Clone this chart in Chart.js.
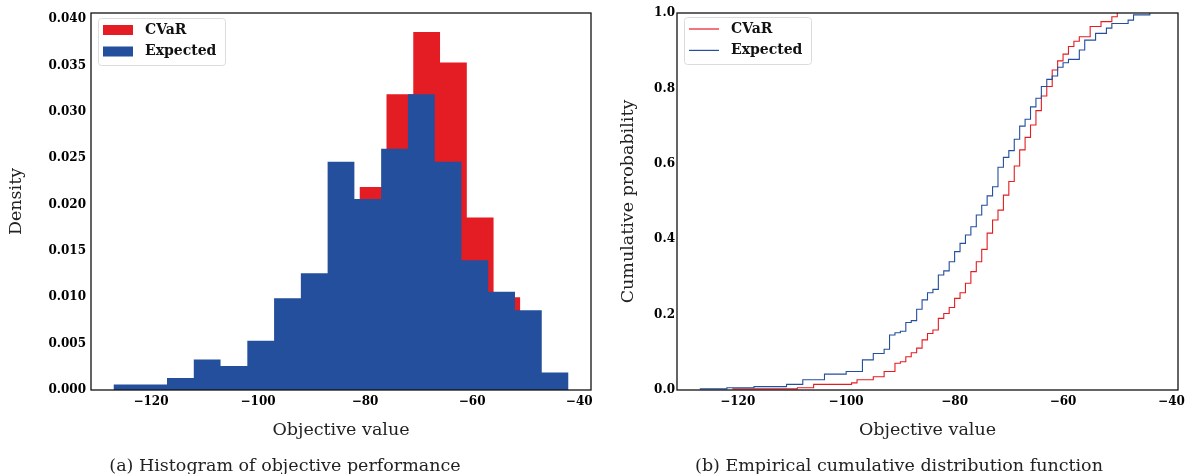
<!DOCTYPE html>
<html>
<head>
<meta charset="utf-8">
<script src="https://cdn.jsdelivr.net/npm/chart.js@4.4.1/dist/chart.umd.min.js"></script>
<style>
  html, body { margin: 0; padding: 0; background: #fff; }
  #page { position: relative; width: 1195px; height: 474px; overflow: hidden; }
  .panel { position: absolute; top: 0; height: 474px; }
  .caption { position: absolute; top: 455px; font: 17.5px 'DejaVu Serif', serif; color: #222;
             white-space: nowrap; transform: translateX(-50%); line-height: 20px; }
</style>
</head>
<body>
<div id="page">
  <div class="panel" style="left:0;width:600px"><canvas id="histCanvas"></canvas></div>
  <div class="panel" style="left:600px;width:595px"><canvas id="cdfCanvas"></canvas></div>
  <div class="caption" style="left:285px">(a) Histogram of objective performance</div>
  <div class="caption" style="left:899px">(b) Empirical cumulative distribution function</div>
</div>
<script>
// series
const seriesLabels = ['CVaR', 'Expected'];
const seriesColors = ['#E41C23', '#234F9C'];

// (a) histogram: bin edges and densities
const cvarEdges = [-121, -116, -111, -106, -101, -96, -91, -86, -81, -76, -71, -66, -61, -56, -51];
const cvarDensity = [0.0005, 0.0004, 0.0020, 0.0004, 0.0028, 0.0082, 0.0124, 0.0140,
                     0.0219, 0.0319, 0.0386, 0.0353, 0.0186, 0.0100];
const expectedEdges = [-127, -122, -117, -112, -107, -102, -97, -92, -87, -82, -77, -72, -67, -62, -57, -52, -47, -42];
const expectedDensity = [0.0006, 0.0006, 0.0013, 0.0033, 0.0026, 0.0053, 0.0099, 0.0126, 0.0246,
                         0.0206, 0.0260, 0.0319, 0.0246, 0.0140, 0.0106, 0.0086, 0.0019];

// (b) empirical CDF: step positions and cumulative probability after each step
const cvarCdfX = [-121, -109, -106, -99, -98, -95, -93, -91, -90, -89, -88, -87, -86, -85, -84, -83, -82, -81,
                  -80, -79, -78, -77, -76, -75, -74, -73, -72, -71, -70, -69, -68, -67, -66, -65, -64, -63,
                  -62, -61, -60, -59, -58, -57, -55, -53, -51, -50];
const cvarCdfY = [0.003, 0.006, 0.015, 0.019, 0.027, 0.035, 0.049, 0.071, 0.075, 0.088, 0.099, 0.111, 0.133,
                  0.150, 0.159, 0.190, 0.203, 0.219, 0.243, 0.258, 0.283, 0.314, 0.340, 0.373, 0.416, 0.451,
                  0.477, 0.517, 0.553, 0.594, 0.637, 0.670, 0.703, 0.741, 0.780, 0.805, 0.849, 0.873, 0.891,
                  0.911, 0.925, 0.937, 0.964, 0.977, 0.990, 1.0];
const expectedCdfX = [-127, -122, -117, -111, -108, -104, -100, -97, -95, -93, -92, -91, -90, -89, -88, -87, -86,
                      -85, -84, -83, -82, -81, -80, -79, -78, -77, -76, -75, -74, -73, -72, -71, -70, -69, -68,
                      -67, -66, -65, -64, -63, -62, -61, -60, -59, -57, -56, -54, -52, -51, -48, -47, -44];
const expectedCdfY = [0.003, 0.006, 0.009, 0.015, 0.027, 0.042, 0.049, 0.080, 0.097, 0.108, 0.146, 0.152, 0.156,
                      0.179, 0.184, 0.214, 0.239, 0.258, 0.267, 0.305, 0.316, 0.340, 0.367, 0.389, 0.411, 0.433,
                      0.464, 0.490, 0.515, 0.539, 0.591, 0.617, 0.635, 0.665, 0.700, 0.718, 0.751, 0.774, 0.805,
                      0.824, 0.833, 0.856, 0.868, 0.877, 0.902, 0.928, 0.946, 0.960, 0.972, 0.981, 0.995, 1.0];

const TICK_FONT = { family: "'DejaVu Serif', serif", size: 12, weight: 'bold' };
const TITLE_FONT = { family: "'DejaVu Serif', serif", size: 17.5 };
const minus = (v) => (v < 0 ? '\u2212' + Math.abs(v) : String(v));

// outline of histogram bars as a stepped path
function histPoints(edges, dens) {
  const pts = [{ x: edges[0], y: 0 }];
  dens.forEach((d, i) => pts.push({ x: edges[i], y: d }));
  pts.push({ x: edges[edges.length - 1], y: 0 });
  return pts;
}
const zip = (xs, ys) => xs.map((x, i) => ({ x, y: ys[i] }));

// black frame round the axes
const frame = {
  id: 'frame',
  afterDatasetsDraw(chart) {
    const { left, top, width, height } = chart.chartArea;
    const ctx = chart.ctx;
    ctx.save();
    ctx.strokeStyle = '#111';
    ctx.lineWidth = 1.3;
    ctx.strokeRect(left, top, width, height);
    ctx.restore();
  },
};

// matplotlib-like legend box inside the axes
const boxLegend = {
  id: 'boxLegend',
  afterDraw(chart, args, o) {
    const ctx = chart.ctx;
    const x = chart.chartArea.left + o.dx, y = chart.chartArea.top + o.dy;
    ctx.save();
    ctx.fillStyle = 'rgba(255,255,255,0.85)';
    ctx.strokeStyle = '#dcdcdc';
    ctx.lineWidth = 1;
    ctx.beginPath();
    ctx.roundRect(x + 0.5, y + 0.5, o.width, o.height, 3);
    ctx.fill();
    ctx.stroke();
    ctx.font = "bold 14px 'DejaVu Serif', serif";
    ctx.textBaseline = 'middle';
    seriesLabels.forEach((label, i) => {
      const cy = y + o.rowTop + i * o.rowGap;
      if (o.kind === 'patch') {
        ctx.fillStyle = seriesColors[i];
        ctx.fillRect(x + 5, cy - 5, 30, 10);
      } else {
        ctx.strokeStyle = seriesColors[i];
        ctx.lineWidth = 1.2;
        ctx.beginPath();
        ctx.moveTo(x + 5, cy);
        ctx.lineTo(x + 35, cy);
        ctx.stroke();
      }
      ctx.fillStyle = '#111';
      ctx.fillText(label, x + 47, cy);
    });
    ctx.restore();
  },
};

function axes(opts) {
  return {
    x: {
      type: 'linear', min: opts.xMin, max: opts.xMax,
      grid: { display: false, drawTicks: false }, border: { display: false },
      ticks: { stepSize: 20, includeBounds: false, autoSkip: false, maxRotation: 0, padding: 5,
               color: '#000', font: TICK_FONT, callback: (v) => minus(v) },
      title: { display: true, text: 'Objective value', color: '#222', font: TITLE_FONT,
               padding: { top: 0, bottom: 33.5 } },
      afterFit: (s) => { s.height = 84; },
    },
    y: {
      type: 'linear', min: 0, max: opts.yMax,
      grid: { display: false, drawTicks: false }, border: { display: false },
      ticks: { stepSize: opts.yStep, includeBounds: false, padding: opts.yPad,
               color: '#000', font: TICK_FONT, callback: (v) => v.toFixed(opts.yDec) },
      title: { display: true, text: opts.yTitle, color: '#222', font: TITLE_FONT,
               padding: { top: opts.yTitlePad, bottom: 0 } },
      afterFit: (s) => { s.width = opts.yWidth; },
    },
  };
}

Chart.defaults.animation = false;
Chart.defaults.devicePixelRatio = 1;

new Chart(document.getElementById('histCanvas'), {
  type: 'line',
  data: {
    datasets: [
      { label: seriesLabels[0], data: histPoints(cvarEdges, cvarDensity), order: 2,
        backgroundColor: seriesColors[0], borderColor: 'rgba(0,0,0,0)', borderWidth: 0,
        fill: 'origin', stepped: true, pointRadius: 0 },
      { label: seriesLabels[1], data: histPoints(expectedEdges, expectedDensity), order: 1,
        backgroundColor: seriesColors[1], borderColor: 'rgba(0,0,0,0)', borderWidth: 0,
        fill: 'origin', stepped: true, pointRadius: 0 },
    ],
  },
  options: {
    responsive: true, maintainAspectRatio: false,
    layout: { padding: { top: 13, right: 9, left: 0, bottom: 0 } },
    plugins: {
      legend: { display: false }, tooltip: { enabled: false },
      boxLegend: { kind: 'patch', dx: 7, dy: 5, width: 127, height: 47, rowTop: 12, rowGap: 21.5 },
    },
    scales: axes({ xMin: -131.2, xMax: -37.8, yMax: 0.04065, yStep: 0.005, yDec: 3, yPad: 5,
                   yTitle: 'Density', yTitlePad: 5.5, yWidth: 91 }),
  },
  plugins: [frame, boxLegend],
});

new Chart(document.getElementById('cdfCanvas'), {
  type: 'line',
  data: {
    datasets: [
      { label: seriesLabels[0], data: zip(cvarCdfX, cvarCdfY), order: 2,
        borderColor: seriesColors[0], borderWidth: 1.1, stepped: true, pointRadius: 0, fill: false },
      { label: seriesLabels[1], data: zip(expectedCdfX, expectedCdfY), order: 1,
        borderColor: seriesColors[1], borderWidth: 1.1, stepped: true, pointRadius: 0, fill: false },
    ],
  },
  options: {
    responsive: true, maintainAspectRatio: false,
    layout: { padding: { top: 13, right: 17, left: 0, bottom: 0 } },
    plugins: {
      legend: { display: false }, tooltip: { enabled: false },
      boxLegend: { kind: 'line', dx: 7, dy: 4, width: 127, height: 47, rowTop: 12, rowGap: 21.4 },
    },
    scales: axes({ xMin: -131.2, xMax: -38.8, yMax: 1, yStep: 0.2, yDec: 1, yPad: 2,
                   yTitle: 'Cumulative probability', yTitlePad: 17.5, yWidth: 77 }),
  },
  plugins: [frame, boxLegend],
});
</script>
</body>
</html>
